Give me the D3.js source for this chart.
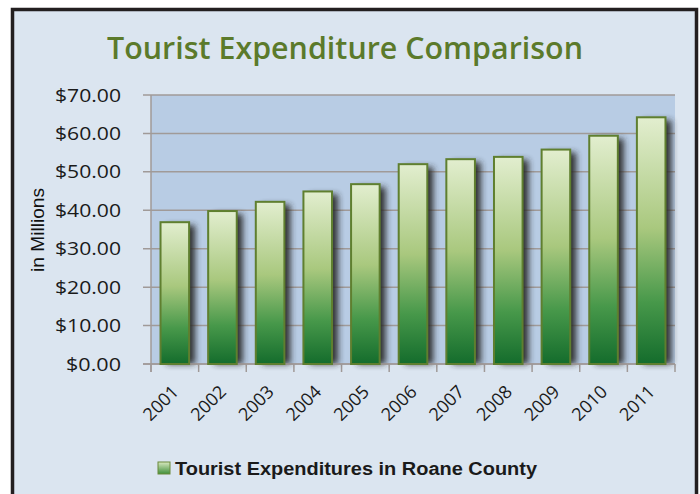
<!DOCTYPE html>
<html><head><meta charset="utf-8">
<script src="https://cdn.jsdelivr.net/npm/d3@7/dist/d3.min.js"></script>
<style>html,body{margin:0;padding:0;background:#fff;}svg{display:block;}</style>
</head><body>
<script>
const years = ["2001","2002","2003","2004","2005","2006","2007","2008","2009","2010","2011"];
const expenditures = [36.9, 39.8, 42.2, 44.9, 46.8, 52.0, 53.3, 53.9, 55.8, 59.4, 64.2];
const yTicks = [0, 10, 20, 30, 40, 50, 60, 70];
const titleText = "Tourist Expenditure Comparison";
const yAxisTitle = "in Millions";
const legendLabel = "Tourist Expenditures in Roane County";

const W = 700, H = 494;
const svg = d3.select("body").append("svg").attr("width", W).attr("height", H);
const defs = svg.append("defs");

const grad = defs.append("linearGradient").attr("id","barGrad").attr("x1",0).attr("y1",0).attr("x2",0).attr("y2",1);
grad.append("stop").attr("offset","0%").attr("stop-color","#e2eecf");
grad.append("stop").attr("offset","45%").attr("stop-color","#a9c87e");
grad.append("stop").attr("offset","75%").attr("stop-color","#47984a");
grad.append("stop").attr("offset","100%").attr("stop-color","#146c2c");

const lgrad = defs.append("linearGradient").attr("id","legGrad").attr("x1",0).attr("y1",0).attr("x2",0).attr("y2",1);
lgrad.append("stop").attr("offset","0%").attr("stop-color","#d8e8c0");
lgrad.append("stop").attr("offset","100%").attr("stop-color","#3f8f3a");

const shadow = defs.append("filter").attr("id","shadow").attr("x","-50%").attr("y","-10%").attr("width","200%").attr("height","130%");
shadow.append("feGaussianBlur").attr("stdDeviation", 3);

// frame
svg.append("rect").attr("x",0).attr("y",0).attr("width",W).attr("height",H).attr("fill","#ffffff");
svg.append("rect").attr("x",12.5).attr("y",9.5).attr("width",684).attr("height",H).attr("fill","#dbe5f0")
  .attr("stroke","#231f20").attr("stroke-width",3.5);

const m = {left:151, right:675, top:95, bottom:364};
const x = d3.scaleBand().domain(years).range([m.left, m.right]).paddingInner(0.4).paddingOuter(0.2);
const y = d3.scaleLinear().domain([0,70]).range([m.bottom, m.top]);

// plot area
svg.append("rect").attr("x",m.left).attr("y",y(70)).attr("width",m.right-m.left).attr("height",y(0)-y(70)).attr("fill","#b8cce4");

// gridlines
svg.append("g").selectAll("line").data(yTicks).join("line")
  .attr("x1",m.left-8).attr("x2",m.right).attr("y1",d=>y(d)).attr("y2",d=>y(d))
  .attr("stroke","#a09a98").attr("stroke-width",1.5);

// y axis line
svg.append("line").attr("x1",m.left).attr("x2",m.left).attr("y1",y(70)).attr("y2",y(0)+8).attr("stroke","#a09a98").attr("stroke-width",1.5);

// x ticks
const tickXs = d3.range(years.length+1).map(i => m.left + i*(m.right-m.left)/years.length);
svg.append("g").selectAll("line").data(tickXs).join("line")
  .attr("x1",d=>d).attr("x2",d=>d).attr("y1",y(0)).attr("y2",y(0)+8)
  .attr("stroke","#a09a98").attr("stroke-width",1.5);

// shadows
svg.append("g").selectAll("rect").data(years).join("rect")
  .attr("x",(d)=>x(d)+6).attr("y",(d,i)=>y(expenditures[i])+3)
  .attr("width",x.bandwidth()).attr("height",(d,i)=>y(0)-y(expenditures[i])-3)
  .attr("fill","#2a2a2a").attr("opacity",0.95).attr("filter","url(#shadow)");

// baseline over shadow bottom
svg.append("line").attr("x1",m.left-8).attr("x2",m.right).attr("y1",y(0)).attr("y2",y(0)).attr("stroke","#a09a98").attr("stroke-width",1.5);

// bars
svg.append("g").selectAll("rect").data(years).join("rect")
  .attr("x",d=>x(d)).attr("y",(d,i)=>y(expenditures[i]))
  .attr("width",x.bandwidth()).attr("height",(d,i)=>y(0)-y(expenditures[i]))
  .attr("fill","url(#barGrad)").attr("stroke","#5f7f2f").attr("stroke-width",2);

// y labels
const fmt = d => "$" + d3.format(".2f")(d);
svg.append("g").selectAll("text").data(yTicks).join("text")
  .attr("x",121).attr("y",d=>y(d)+6.5).attr("text-anchor","end")
  .attr("font-family","'Open Sans', sans-serif").attr("font-size",18.5).attr("fill","#1a1a1a")
  .attr("textLength",d=>66*fmt(d).length/6).attr("lengthAdjust","spacingAndGlyphs")
  .text(fmt);

// x labels
svg.append("g").selectAll("text").data(years).join("text")
  .attr("transform",d=>`translate(${x(d)+x.bandwidth()/2-4},${y(0)+20}) rotate(-45)`)
  .attr("text-anchor","end").attr("dy","0.7em")
  .attr("font-family","'Open Sans', sans-serif").attr("font-size",18).attr("fill","#1a1a1a")
  .text(d=>d);

// y axis title
svg.append("text").attr("transform","translate(44,230) rotate(-90)").attr("text-anchor","middle")
  .attr("font-family","'Liberation Sans', Arial, sans-serif").attr("font-size",18).attr("fill","#111")
  .attr("textLength",84).attr("lengthAdjust","spacingAndGlyphs")
  .text(yAxisTitle);

// title
svg.append("text").attr("x",345).attr("y",59).attr("text-anchor","middle")
  .attr("font-family","'Open Sans', sans-serif").attr("font-weight",600).attr("font-size",30).attr("fill","#5b7a2b")
  .attr("textLength",476).attr("lengthAdjust","spacingAndGlyphs")
  .text(titleText);

// legend
svg.append("rect").attr("x",158).attr("y",462).attr("width",12).attr("height",12)
  .attr("fill","url(#legGrad)").attr("stroke","#6a8a3a").attr("stroke-width",1);
svg.append("text").attr("x",175).attr("y",475)
  .attr("font-family","'Liberation Sans', Arial, sans-serif").attr("font-weight","bold").attr("font-size",17.5).attr("fill","#1a1a1a")
  .attr("textLength",362).attr("lengthAdjust","spacingAndGlyphs")
  .text(legendLabel);
</script>
</body></html>
